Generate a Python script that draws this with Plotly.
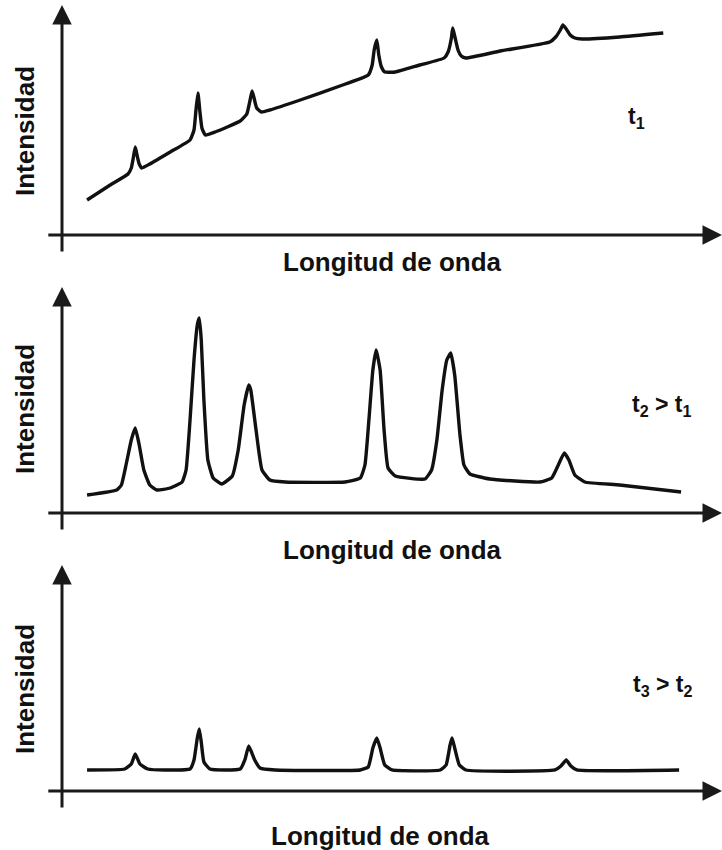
import plotly.graph_objects as go

# ---- data (arbitrary wavelength units / intensity units) ----
wl_t1 = [3.8, 7.3, 10.0, 10.5, 10.8, 11.1, 11.4, 11.7, 12.1, 13.3, 16.4, 19.4, 20.0, 20.3, 20.6, 20.9, 21.2, 21.7,
         23.2, 27.0, 28.0, 28.5, 28.8, 29.1, 29.5, 30.2, 31.5, 36.1, 42.1, 46.4, 47.0, 47.3, 47.7, 48.0, 48.4, 48.9,
         50.5, 54.2, 57.9, 58.5, 59.0, 59.2, 59.5, 60.0, 60.5, 61.2, 66.4, 73.9, 74.8, 75.5, 75.9, 76.4, 77.0, 77.7,
         78.8, 84.5, 91.1]
int_t1 = [17.5, 25, 30.5, 33.5, 38.5, 44, 39.5, 35.5, 33.5, 35.5, 41.5, 47.5, 52.5, 62.5, 71, 61.5, 53.5, 50,
          51.5, 57, 60.5, 67.5, 72, 68.5, 63.5, 61.5, 62.5, 67.5, 74.5, 80, 85, 92.5, 97.5, 90, 84, 81.5,
          81.5, 85, 88.5, 91.5, 98.5, 103.5, 99.5, 92.5, 89.5, 88.5, 92, 96.5, 99, 102.5, 105, 103, 100, 98.5,
          98, 99, 101]

wl_t2 = [3.8, 8.3, 9.0, 9.7, 10.5, 11.1, 11.7, 12.4, 13.3, 14.4, 16.4, 18.2, 18.8, 19.4, 20.0, 20.5, 20.8, 21.1,
         21.5, 22.1, 22.9, 24.2, 25.8, 26.7, 27.6, 28.3, 28.6, 29.4, 30.3, 31.5, 33.8, 42.9, 45.2, 45.9, 46.5,
         47.1, 47.6, 48.2, 48.8, 49.4, 50.5, 55.0, 56.0, 56.8, 57.6, 58.3, 58.9, 59.5, 60.3, 60.9, 61.8, 64.8,
         72.4, 74.2, 75.2, 76.1, 76.8, 77.7, 79.2, 84.5, 93.8]
int_t2 = [9, 11.5, 14, 24, 36.5, 42.5, 34, 21.5, 14, 11.5, 12.5, 15.5, 21.5, 46.5, 76.5, 94, 97.5, 86.5,
          56.5, 26.5, 17.5, 14.5, 18.5, 31.5, 54, 64, 61.5, 41.5, 21.5, 16.5, 15.5, 15.5, 17.5, 24, 46.5,
          71.5, 81.5, 71.5, 41.5, 22.5, 18.5, 17, 21.5, 36.5, 61.5, 76.5, 80, 69, 39, 24, 19.5, 17,
          15.5, 17.5, 24, 30, 26.5, 19, 15.5, 14, 10.5]

wl_t3 = [3.8, 9.5, 10.5, 11.1, 11.8, 13.0, 15.6, 19.4, 20.0, 20.5, 20.8, 21.1, 21.5, 22.4, 24.7, 27.0, 27.7,
         28.3, 29.2, 30.0, 32.3, 45.2, 46.4, 47.1, 47.7, 48.2, 48.9, 50.0, 57.3, 58.2, 58.8, 59.1, 59.5, 60.2,
         61.2, 74.7, 75.6, 76.4, 77.1, 78.0, 93.5]
int_t3 = [10.5, 11, 13.5, 18.5, 13.5, 11, 10.5, 11, 15.5, 26.5, 31, 24.5, 14.5, 11, 10.5, 11, 15.5,
          22.5, 15.5, 11.5, 10.5, 10.5, 12, 21.5, 26.5, 21.5, 13, 10.5, 10.5, 13, 23, 26.5, 21.5, 13,
          10.5, 10.5, 12.5, 15.5, 12.5, 10.5, 10.5]

panel_labels = ["t<sub>1</sub>", "t<sub>2</sub> &gt; t<sub>1</sub>", "t<sub>3</sub> &gt; t<sub>2</sub>"]
x_label = "Longitud de onda"
y_label = "Intensidad"

series = [(wl_t1, int_t1), (wl_t2, int_t2), (wl_t3, int_t3)]

# ---- layout geometry ----
W, H = 722, 850
FONT = "Liberation Sans, Arial, sans-serif"
INK = "#111111"
x_range = [-9.394, 100.0]
y_domains = [[0.68235, 1.0], [0.34118, 0.67059], [0.0, 0.34118]]
y_ranges = [[-17.5, 117.5], [-23.5, 116.5], [-29.5, 115.5]]
y_tops = [115, 113, 113]

fig = go.Figure()
annotations = []
for i, (xs, ys) in enumerate(series):
    n = "" if i == 0 else str(i + 1)
    fig.add_trace(go.Scatter(x=xs, y=ys, mode="lines", xaxis="x" + n, yaxis="y" + n,
                             line=dict(color=INK, width=3.4, shape="spline", smoothing=0.4),
                             hoverinfo="skip", showlegend=False))
    fig.layout["xaxis" + n] = dict(domain=[0, 1], range=x_range, anchor="y" + n, visible=False, fixedrange=True)
    fig.layout["yaxis" + n] = dict(domain=y_domains[i], range=y_ranges[i], anchor="x" + n, visible=False,
                                   fixedrange=True)
    xr, yr = "x" + n, "y" + n
    # x axis arrow
    annotations.append(dict(x=100.0, y=0, ax=-2.3, ay=0, xref=xr, yref=yr, axref=xr, ayref=yr,
                            showarrow=True, arrowhead=2, arrowsize=1.3, arrowwidth=3, arrowcolor="#1a1a1a",
                            text=""))
    # y axis arrow
    annotations.append(dict(x=0, y=y_tops[i], ax=0, ay=-9, xref=xr, yref=yr, axref=xr, ayref=yr,
                            showarrow=True, arrowhead=2, arrowsize=1.3, arrowwidth=3, arrowcolor="#1a1a1a",
                            text=""))

# text labels (paper coords)
ylab_y = [131, 409, 689]
xlab = [(392, 262), (392, 550), (381, 836)]
tlab = [(636, 118), (662, 405), (663, 685)]
for i in range(3):
    annotations.append(dict(x=25 / W, y=1 - ylab_y[i] / H, xref="paper", yref="paper", showarrow=False,
                            text="<b>" + y_label + "</b>", textangle=-90,
                            font=dict(family=FONT, size=26, color=INK), xanchor="center", yanchor="middle"))
    annotations.append(dict(x=xlab[i][0] / W, y=1 - xlab[i][1] / H, xref="paper", yref="paper",
                            showarrow=False, text="<b>" + x_label + "</b>",
                            font=dict(family=FONT, size=26, color=INK), xanchor="center", yanchor="middle"))
    annotations.append(dict(x=tlab[i][0] / W, y=1 - tlab[i][1] / H, xref="paper", yref="paper",
                            showarrow=False, text="<b>" + panel_labels[i] + "</b>",
                            font=dict(family=FONT, size=23, color=INK), xanchor="center", yanchor="middle"))

fig.update_layout(width=W, height=H, margin=dict(l=0, r=0, t=0, b=0), paper_bgcolor="white",
                  plot_bgcolor="white", annotations=annotations, showlegend=False)

fig.write_html("out.html", config={"displayModeBar": False})
